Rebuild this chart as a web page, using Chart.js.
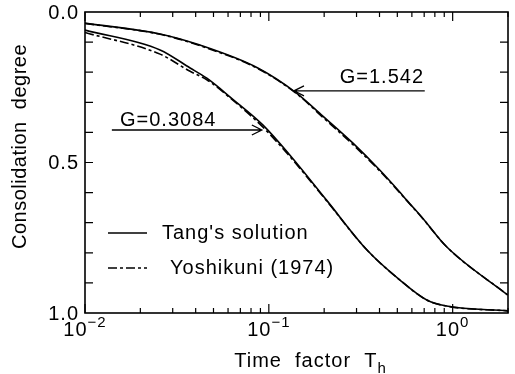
<!DOCTYPE html>
<html>
<head>
<meta charset="utf-8">
<script src="https://cdn.jsdelivr.net/npm/chart.js@4.4.1/dist/chart.umd.min.js"></script>
<style>
html,body{margin:0;padding:0;background:#fff;}
#wrap{width:515px;height:374px;position:relative;}
</style>
</head>
<body>
<div id="wrap"><canvas id="c" width="515" height="374"></canvas></div>
<script>
// ---- data ----
const seriesNames = ["Tang's solution", "Yoshikuni (1974)"];
const gLabels = ["G=1.542", "G=0.3084"];

// G = 1.542
const tangHighG_T = [0.01, 0.0256, 0.0422, 0.0871, 0.142, 0.196, 0.286, 0.401, 0.515, 0.562, 0.687, 0.927, 1.99];
const tangHighG_U = [0.037, 0.073, 0.11, 0.186, 0.27, 0.345, 0.435, 0.525, 0.598, 0.625, 0.685, 0.78, 0.94];
const yoshHighG_T = [0.01, 0.0256, 0.0422, 0.0871, 0.142, 0.196, 0.286, 0.401, 0.515, 0.562, 0.687, 0.927, 1.99];
const yoshHighG_U = [0.038, 0.074, 0.112, 0.188, 0.272, 0.349, 0.44, 0.528, 0.6, 0.626, 0.686, 0.78, 0.94];

// G = 0.3084
const tangLowG_T = [0.01, 0.0256, 0.0373, 0.046, 0.0637, 0.0927, 0.13, 0.206, 0.341, 0.515, 0.723, 0.927, 2.0];
const tangLowG_U = [0.06, 0.126, 0.186, 0.22, 0.29, 0.375, 0.475, 0.625, 0.79, 0.89, 0.957, 0.977, 0.993];
const yoshLowG_T = [0.01, 0.0256, 0.0373, 0.046, 0.0637, 0.0927, 0.13, 0.206, 0.341, 0.515, 0.723, 0.927, 2.0];
const yoshLowG_U = [0.068, 0.14, 0.197, 0.225, 0.293, 0.382, 0.48, 0.627, 0.79, 0.89, 0.957, 0.977, 0.993];

// axis ticks
const xMajorTicks = [0.01, 0.1, 1];
const xMajorExps = ["\u22122", "\u22121", "0"];
const xMinorTicks = [0.02,0.03,0.04,0.05,0.06,0.07,0.08,0.09,0.2,0.3,0.4,0.5,0.6,0.7,0.8,0.9,2];
const yTickValues = [0.1,0.2,0.3,0.4,0.5,0.6,0.7,0.8,0.9];
const yLabelValues = [0, 0.5, 1];
const yLabels = ["0.0", "0.5", "1.0"];
const xTitle = "Time  factor  T";
const xTitleSub = "h";
const yTitle = "Consolidation  degree";

// ---- chart ----
function pts(xs, ys){ return xs.map((x,i)=>({x:x, y:ys[i]})); }
const DASH = [9,3,3,3];
const FONT = '"Liberation Sans", Arial, Helvetica, sans-serif';

const annotations = [
  {text: gLabels[0], tx: 0.243, ty: 0.216, from: [0.705, 0.262], to: [0.137, 0.262]},
  {text: gLabels[1], tx: 0.0155, ty: 0.362, from: [0.014, 0.392], to: [0.0916, 0.392]}
];

const framePlugin = {
  id: 'frame',
  afterDraw(chart){
    const ctx = chart.ctx, a = chart.chartArea, xs = chart.scales.x, ys = chart.scales.y;
    ctx.save();
    ctx.strokeStyle = '#000';
    ctx.fillStyle = '#000';
    ctx.lineWidth = 1.6;
    ctx.strokeRect(a.left, a.top, a.right - a.left, a.bottom - a.top);
    ctx.lineWidth = 1.2;
    // y ticks (inward, both sides)
    yTickValues.forEach(v=>{
      const p = ys.getPixelForValue(v);
      ctx.beginPath();
      ctx.moveTo(a.left, p); ctx.lineTo(a.left + 8, p);
      ctx.moveTo(a.right, p); ctx.lineTo(a.right - 8, p);
      ctx.stroke();
    });
    // x ticks
    const xt = (v, len)=>{
      const p = xs.getPixelForValue(v);
      ctx.beginPath();
      ctx.moveTo(p, a.bottom); ctx.lineTo(p, a.bottom - len);
      ctx.moveTo(p, a.top); ctx.lineTo(p, a.top + len);
      ctx.stroke();
    };
    xMinorTicks.forEach(v=>xt(v,5));
    xMajorTicks.forEach(v=>xt(v,9));
    // y labels
    ctx.letterSpacing = '1px';
    ctx.font = '20px ' + FONT;
    ctx.textAlign = 'right';
    ctx.textBaseline = 'middle';
    yLabelValues.forEach((v,i)=>{
      ctx.fillText(yLabels[i], a.left - 6, ys.getPixelForValue(v) + 1);
    });
    // x labels with superscripts
    ctx.textBaseline = 'alphabetic';
    ctx.textAlign = 'left';
    xMajorTicks.forEach((v,i)=>{
      const p = xs.getPixelForValue(v);
      ctx.font = '20px ' + FONT;
      const w1 = ctx.measureText('10').width;
      ctx.font = '15px ' + FONT;
      const w2 = ctx.measureText(xMajorExps[i]).width;
      const x0 = p - (w1 + w2)/2;
      ctx.font = '20px ' + FONT;
      ctx.fillText('10', x0, a.bottom + 23);
      ctx.font = '15px ' + FONT;
      ctx.fillText(xMajorExps[i], x0 + w1, a.bottom + 14);
    });
    // x title
    ctx.font = '20px ' + FONT;
    const tw = ctx.measureText(xTitle).width;
    ctx.font = '15px ' + FONT;
    const sw = ctx.measureText(xTitleSub).width;
    const cx = (a.left + a.right)/2 + 14;
    const tx0 = cx - (tw + sw)/2;
    ctx.font = '20px ' + FONT;
    ctx.fillText(xTitle, tx0, a.bottom + 54);
    ctx.font = '15px ' + FONT;
    ctx.fillText(xTitleSub, tx0 + tw, a.bottom + 60);
    // y title
    ctx.save();
    ctx.letterSpacing = '0.5px';
    ctx.translate(20, (a.top + a.bottom)/2 - 16);
    ctx.rotate(-Math.PI/2);
    ctx.font = '20px ' + FONT;
    ctx.textAlign = 'center';
    ctx.textBaseline = 'middle';
    ctx.fillText(yTitle, 0, 0);
    ctx.restore();
    // annotations with arrows
    annotations.forEach(an=>{
      ctx.font = '20px ' + FONT;
      ctx.textAlign = 'left';
      ctx.textBaseline = 'middle';
      ctx.fillText(an.text, xs.getPixelForValue(an.tx), ys.getPixelForValue(an.ty));
      const x1 = xs.getPixelForValue(an.from[0]), y1 = ys.getPixelForValue(an.from[1]);
      const x2 = xs.getPixelForValue(an.to[0]), y2 = ys.getPixelForValue(an.to[1]);
      ctx.lineWidth = 1.3;
      ctx.beginPath();
      ctx.moveTo(x1, y1); ctx.lineTo(x2, y2);
      const dir = Math.sign(x2 - x1);
      ctx.moveTo(x2 - dir*10, y2 - 5); ctx.lineTo(x2, y2); ctx.lineTo(x2 - dir*10, y2 + 5);
      ctx.stroke();
    });
    // legend
    const legend = [
      {label: seriesNames[0], dash: [], y: 233, tx: a.left + 77},
      {label: seriesNames[1], dash: DASH, y: 268, tx: a.left + 85}
    ];
    legend.forEach(l=>{
      ctx.lineWidth = 1.3;
      ctx.setLineDash(l.dash);
      ctx.beginPath();
      ctx.moveTo(a.left + 23, l.y); ctx.lineTo(a.left + 62, l.y);
      ctx.stroke();
      ctx.setLineDash([]);
      ctx.font = '20px ' + FONT;
      ctx.textAlign = 'left';
      ctx.textBaseline = 'middle';
      ctx.fillText(l.label, l.tx, l.y);
    });
    ctx.restore();
  }
};

const common = {borderColor:'#000', borderWidth:1.6, pointRadius:0, fill:false, cubicInterpolationMode:'monotone'};
new Chart(document.getElementById('c'), {
  type: 'line',
  data: {
    datasets: [
      Object.assign({label: seriesNames[0] + ' ' + gLabels[0], data: pts(tangHighG_T, tangHighG_U)}, common),
      Object.assign({label: seriesNames[1] + ' ' + gLabels[0], data: pts(yoshHighG_T, yoshHighG_U), borderDash: DASH}, common),
      Object.assign({label: seriesNames[0] + ' ' + gLabels[1], data: pts(tangLowG_T, tangLowG_U)}, common),
      Object.assign({label: seriesNames[1] + ' ' + gLabels[1], data: pts(yoshLowG_T, yoshLowG_U), borderDash: DASH}, common)
    ]
  },
  options: {
    responsive: false,
    animation: false,
    events: [],
    layout: {padding: {left: 85, right: 7, top: 12, bottom: 61}},
    plugins: {legend: {display: false}, tooltip: {enabled: false}},
    scales: {
      x: {type: 'logarithmic', min: 0.01, max: 2, display: false},
      y: {type: 'linear', min: 0, max: 1, reverse: true, display: false}
    }
  },
  plugins: [framePlugin]
});
</script>
</body>
</html>
